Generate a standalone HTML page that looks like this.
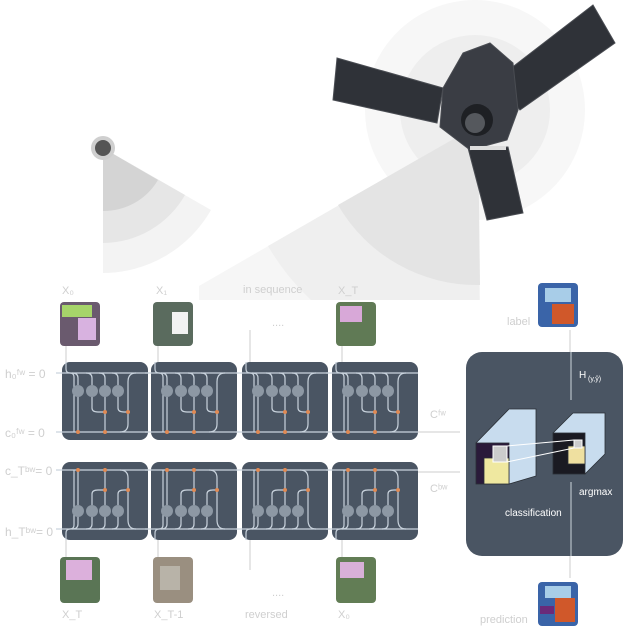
<!DOCTYPE html>
<html><head><meta charset="utf-8"><style>
html,body{margin:0;padding:0;background:#fff;}
svg{display:block;font-family:"Liberation Sans",sans-serif;}
</style></head><body>
<svg width="628" height="628" viewBox="0 0 628 628" xmlns="http://www.w3.org/2000/svg">
<defs>
<clipPath id="cc"><rect x="0" y="0" width="628" height="300"/></clipPath>
<g id="cell">
<rect x="0" y="0" width="86" height="78" rx="8" fill="#4a5563"/>
<g stroke="#c9d3dd" stroke-width="1.2" fill="none">
<path d="M-6 11 H86"/><path d="M-6 70 H86"/>
<path d="M4 0 V7 Q4 11 8 11 Q12 11 12 15 V70"/>
<path d="M10 11 Q16 11 16 16 V23"/><path d="M16 35 V70"/>
<path d="M24 11 Q30 11 30 16 V23"/><path d="M30 35 V46 Q30 50 36 50 H43"/>
<path d="M37 11 Q43 11 43 16 V23"/><path d="M43 35 V70"/>
<path d="M50 11 Q56 11 56 16 V23"/><path d="M56 35 V46 Q56 50 62 50 H68"/>
<path d="M58 70 Q66 70 66 62 V20 Q66 11 74 11"/>
</g>
<g fill="#8d98a4"><circle cx="16" cy="29" r="6"/><circle cx="30" cy="29" r="6"/><circle cx="43" cy="29" r="6"/><circle cx="56" cy="29" r="6"/></g>
<g fill="#e08a55"><circle cx="43" cy="50" r="2"/><circle cx="66" cy="50" r="2"/><circle cx="16" cy="70" r="2"/><circle cx="43" cy="70" r="2"/></g>
</g>
</defs>
<!-- halo -->
<circle cx="475" cy="110" r="110" fill="#f7f7f7"/>
<circle cx="475" cy="110" r="75" fill="#eeeeee"/>
<!-- satellite cone -->
<g clip-path="url(#cc)">
<path d="M478 125 L199 286 L199 300 L480 300 Z" fill="#f6f6f6"/>
<path d="M478 125 L268 246 A240 240 0 0 0 480 365 Z" fill="#efefef"/>
<path d="M478 125 L338 205 A160 160 0 0 0 480 285 Z" fill="#e4e4e4"/>
</g>
<!-- sensor cone -->
<path d="M103 148 L103 273 A125 125 0 0 0 211 210 Z" fill="#f3f3f3"/>
<path d="M103 148 L103 243 A95 95 0 0 0 185 195 Z" fill="#e6e6e6"/>
<path d="M103 148 L103 211 A63 63 0 0 0 158 180 Z" fill="#d4d4d4"/>
<circle cx="103" cy="148" r="12" fill="#cfcfcf"/><circle cx="103" cy="148" r="8" fill="#555"/>
<!-- satellite -->
<g fill="#2f3238" stroke="#4a4d53" stroke-width="1">
<polygon points="337,58 443,88 437,123 333,100"/>
<polygon points="593,5 615,43 520,110 493,82"/>
<polygon points="468,148 508,147 523,213 487,220"/>
<polygon points="463,53 490,43 513,63 518,110 507,140 470,150 440,127 443,88" fill="#3a3d44"/>
</g>
<rect x="470" y="146" width="36" height="4" fill="#ddd"/>
<circle cx="477" cy="120" r="16" fill="#1e2024"/><circle cx="475" cy="123" r="10" fill="#55585d"/>
<!-- labels -->
<g fill="#cfcfcf" font-size="11">
<text x="62" y="294">X₀</text><text x="156" y="294">X₁</text>
<text x="243" y="293">in sequence</text><text x="338" y="294">X_T</text>
<text x="272" y="326">....</text><text x="272" y="596">....</text>
<text x="62" y="618">X_T</text><text x="154" y="618">X_T-1</text>
<text x="245" y="618">reversed</text><text x="338" y="618">X₀</text>
<text x="507" y="325">label</text><text x="480" y="623">prediction</text>
<g font-size="12">
<text x="5" y="378">h₀ᶠʷ = 0</text>
<text x="5" y="437">c₀ᶠʷ = 0</text>
<text x="5" y="475">c_Tᵇʷ= 0</text>
<text x="5" y="536">h_Tᵇʷ= 0</text>
</g>
<text x="430" y="418">Cᶠʷ</text><text x="430" y="492">Cᵇʷ</text>
</g>
<!-- images -->
<g>
<rect x="60" y="302" width="40" height="44" rx="4" fill="#6a5a6e"/><rect x="62" y="305" width="30" height="12" fill="#a6d46a"/><rect x="78" y="318" width="18" height="22" fill="#d8b2e0"/>
<rect x="153" y="302" width="40" height="44" rx="4" fill="#5a6b5e"/><rect x="172" y="312" width="16" height="22" fill="#f2f2f2"/>
<rect x="336" y="302" width="40" height="44" rx="4" fill="#607a55"/><rect x="340" y="306" width="22" height="16" fill="#d8a8d8"/>
<rect x="60" y="557" width="40" height="46" rx="4" fill="#5a7555"/><rect x="66" y="560" width="26" height="20" fill="#dcb0dc"/>
<rect x="153" y="557" width="40" height="46" rx="4" fill="#9a8f80"/><rect x="160" y="566" width="20" height="24" fill="#b8b3a8"/>
<rect x="336" y="557" width="40" height="46" rx="4" fill="#627d55"/><rect x="340" y="562" width="24" height="16" fill="#d8b0d8"/>
<rect x="538" y="283" width="40" height="44" rx="4" fill="#3a64a8"/><rect x="545" y="288" width="26" height="14" fill="#a8cde8"/><rect x="552" y="304" width="22" height="20" fill="#d0582a"/>
<rect x="538" y="582" width="40" height="44" rx="4" fill="#3a64a8"/><rect x="545" y="586" width="26" height="12" fill="#a8cde8"/><rect x="555" y="598" width="20" height="24" fill="#d0582a"/><rect x="540" y="606" width="14" height="8" fill="#6a2a7a"/>
</g>
<!-- lines -->
<g stroke="#ccc" stroke-width="1" fill="none">
<path d="M66 346 V370"/><path d="M158 346 V370"/><path d="M250 330 V370"/><path d="M342 346 V370"/>
<path d="M66 557 V530"/><path d="M158 557 V530"/><path d="M250 570 V530"/><path d="M342 557 V530"/>
<path d="M416 432 H460"/><path d="M416 472 H460"/>
<path d="M570 330 V420"/><path d="M570 470 V578"/>
</g>
<!-- cells -->
<use href="#cell" x="62" y="362"/><use href="#cell" x="151" y="362"/><use href="#cell" x="242" y="362"/><use href="#cell" x="332" y="362"/>
<g transform="translate(0,1002) scale(1,-1)">
<use href="#cell" x="62" y="462"/><use href="#cell" x="151" y="462"/><use href="#cell" x="242" y="462"/><use href="#cell" x="332" y="462"/>
</g>
<!-- classifier -->
<rect x="466" y="352" width="157" height="204" rx="16" fill="#4a5563"/>
<line x1="571" y1="352" x2="571" y2="400" stroke="#cfd6dd"/>
<line x1="571" y1="482" x2="571" y2="556" stroke="#cfd6dd"/>
<text x="579" y="378" fill="#fff" font-size="10">H</text><text x="588" y="381" fill="#fff" font-size="7">(y,ŷ)</text>
<text x="579" y="495" fill="#fff" font-size="10">argmax</text>
<text x="505" y="516" fill="#fff" font-size="10">classification</text>
<g stroke="#2a2f36" stroke-width="0.8">
<polygon points="476,443 509,409 536,409 536,476 509,484" fill="#c8dcee"/>
<rect x="476" y="443" width="33" height="41" fill="#2a1a3a"/><rect x="484" y="458" width="25" height="26" fill="#efe8a0"/>
<polygon points="553,433 573,413 605,413 605,454 585,474" fill="#c8dcee"/>
<rect x="553" y="433" width="32" height="41" fill="#1a1a22"/><rect x="568" y="446" width="17" height="18" fill="#efe0a0"/>
</g>
<rect x="493" y="446" width="14" height="16" fill="#ccc" stroke="#fff"/>
<rect x="574" y="440" width="8" height="8" fill="#ccc" stroke="#fff"/>
<line x1="507" y1="446" x2="574" y2="440" stroke="#fff"/><line x1="507" y1="462" x2="574" y2="448" stroke="#fff"/>
</svg>
</body></html>
